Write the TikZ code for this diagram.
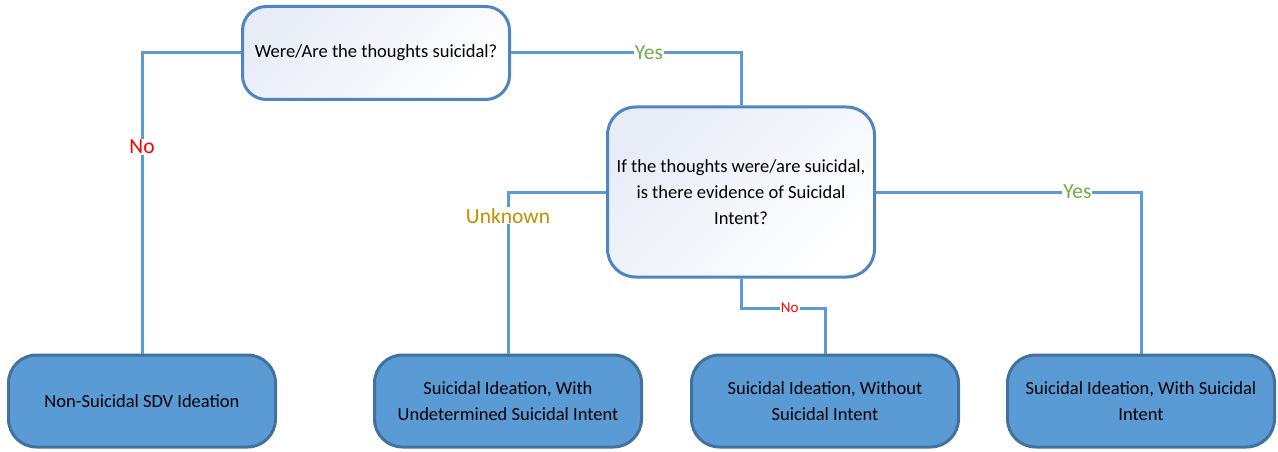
\documentclass[tikz,border=0pt]{standalone}
\usepackage{fontspec}
\setmainfont{Carlito}
\definecolor{linkblue}{HTML}{5B9BD5}
\definecolor{edgeblue}{HTML}{4F86C0}
\definecolor{darkedge}{HTML}{41719C}
\definecolor{shadetop}{HTML}{E8ECF7}
\definecolor{yesgreen}{HTML}{70AD47}
\definecolor{nored}{HTML}{FF0000}
\definecolor{unkgold}{HTML}{BF9000}

\begin{document}
\begin{tikzpicture}[x=1pt,y=-1pt,
  question/.style={draw=edgeblue,line width=3pt,rounded corners=24pt,
    top color=shadetop,bottom color=white,shading angle=45,
    minimum width=267pt,inner sep=0pt,align=center,font=\fontsize{18.5}{26}\selectfont},
  outcome/.style={draw=darkedge,line width=3pt,fill=linkblue,rounded corners=28pt,
    minimum width=267pt,minimum height=92pt,inner sep=0pt,align=center,
    font=\fontsize{18.5}{26}\selectfont},
  link/.style={draw=linkblue,line width=3pt},
  answer/.style={fill=white,inner sep=1pt,font=\fontsize{21.5}{21.5}\selectfont}]
\useasboundingbox (0,0) rectangle (1278,452);

\node[question,minimum height=93pt] at (376,53) (q1) {Were/Are the thoughts suicidal?};
\node[question,minimum height=170pt,rounded corners=28pt] at (741,192) (q2)
  {If the thoughts were/are suicidal,\\is there evidence of Suicidal\\Intent?};
\node[outcome] at (142,401) (b1) {Non-Suicidal SDV Ideation};
\node[outcome] at (508,401) (b2) {Suicidal Ideation, With\\Undetermined Suicidal Intent};
\node[outcome] at (825,401) (b3) {Suicidal Ideation, Without\\Suicidal Intent};
\node[outcome] at (1141,401) (b4) {Suicidal Ideation, With Suicidal\\Intent};
\coordinate (bend) at (741,308);

\draw[link] (q1.west) -| node[answer,pos=0.656,text=nored] {No} (b1.north);
\draw[link] (q1.east) -| node[answer,pos=0.3,text=yesgreen] {Yes} (q2.north);
\draw[link] (q2.west) -| node[answer,pos=0.574,text=unkgold] {Unknown} (b2.north);
\draw[link] (q2.east) -| node[answer,pos=0.38,text=yesgreen] {Yes} (b4.north);
\draw[link] (q2.south) -- (bend) -| node[answer,pos=0.29,text=nored,font=\fontsize{15}{15}\selectfont] {No} (b3.north);
\end{tikzpicture}
\end{document}
